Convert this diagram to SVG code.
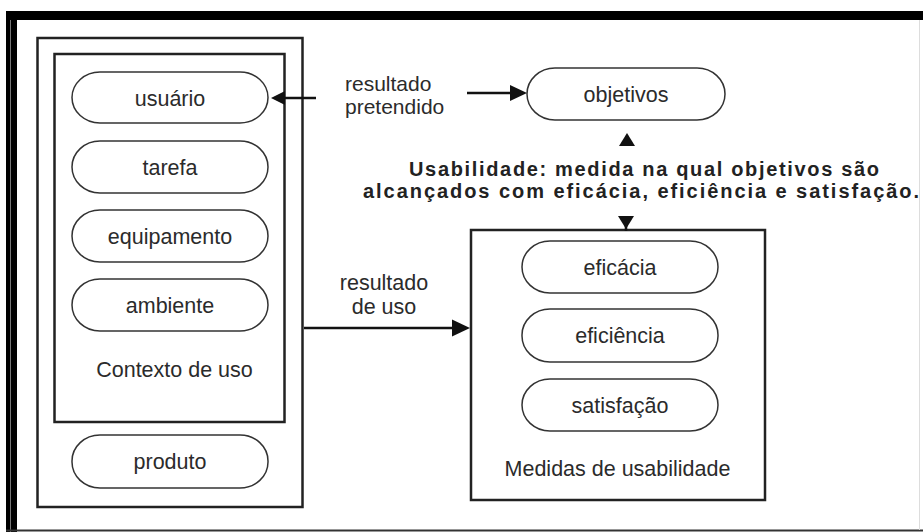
<svg xmlns="http://www.w3.org/2000/svg" width="923" height="532" viewBox="0 0 923 532">
<defs>
<style>
.t{font-family:"Liberation Sans",Arial,sans-serif;font-size:21.5px;fill:#2b2b2b;text-anchor:middle}
.tl{font-family:"Liberation Sans",Arial,sans-serif;font-size:21px;fill:#2b2b2b}
.b{font-family:"Liberation Sans",Arial,sans-serif;font-size:20px;font-weight:bold;fill:#222}
.box{fill:none;stroke:#222;stroke-width:2.5}
.pill{fill:#fff;stroke:#333;stroke-width:1.5}
.ln{fill:none;stroke:#111;stroke-width:2.5}
.ah{fill:#111}
</style>
</defs>
<rect width="923" height="532" fill="#fff"/>
<g id="frame">
<rect x="6" y="11" width="917" height="9" fill="#000"/>
<rect x="6" y="11" width="11" height="521" fill="#000"/>
<line x1="10.5" y1="20" x2="10.5" y2="532" stroke="#777" stroke-width="1"/>
<line x1="6" y1="530.5" x2="923" y2="530.5" stroke="#333" stroke-width="2"/>
<line x1="919.5" y1="20" x2="919.5" y2="530" stroke="#ddd" stroke-width="1"/>
</g>
<g id="produto-box">
<rect class="box" x="37.5" y="38" width="265" height="469"/>
</g>
<g id="contexto">
<rect class="box" x="54.5" y="54" width="230" height="368"/>
<text class="t" x="174.5" y="377">Contexto de uso</text>
</g>
<g id="usuario">
<rect class="pill" x="72" y="72" width="196" height="51" rx="28" ry="25.5"/>
<text class="t" x="170" y="106">usuário</text>
</g>
<g id="tarefa">
<rect class="pill" x="72" y="141" width="196" height="52" rx="28" ry="26"/>
<text class="t" x="170" y="175">tarefa</text>
</g>
<g id="equipamento">
<rect class="pill" x="72" y="210" width="196" height="52" rx="28" ry="26"/>
<text class="t" x="170" y="244">equipamento</text>
</g>
<g id="ambiente">
<rect class="pill" x="72" y="279" width="196" height="52" rx="28" ry="26"/>
<text class="t" x="170" y="313">ambiente</text>
</g>
<g id="produto">
<rect class="pill" x="72" y="435" width="196" height="53" rx="28" ry="26"/>
<text class="t" x="170" y="469">produto</text>
</g>
<g id="objetivos">
<rect class="pill" x="527" y="68" width="198" height="52" rx="28" ry="26"/>
<text class="t" x="626" y="102">objetivos</text>
</g>
<g id="definicao">
<text class="b" x="409" y="176" textLength="470" lengthAdjust="spacing">Usabilidade: medida na qual objetivos são</text>
<text class="b" x="363" y="198" textLength="556" lengthAdjust="spacing">alcançados com eficácia, eficiência e satisfação.</text>
</g>
<g id="medidas">
<rect class="box" x="471" y="230" width="294" height="270"/>
<text class="t" x="617.5" y="476">Medidas de usabilidade</text>
</g>
<g id="eficacia">
<rect class="pill" x="522" y="241" width="196" height="52" rx="28" ry="26"/>
<text class="t" x="620" y="275">eficácia</text>
</g>
<g id="eficiencia">
<rect class="pill" x="522" y="309" width="196" height="53" rx="28" ry="26"/>
<text class="t" x="620" y="343">eficiência</text>
</g>
<g id="satisfacao">
<rect class="pill" x="522" y="379" width="196" height="52" rx="28" ry="26"/>
<text class="t" x="620" y="413">satisfação</text>
</g>
<g id="connectors">
<line class="ln" x1="316" y1="98" x2="284" y2="98"/>
<polygon class="ah" points="271,98 285,91 285,105"/>
<text class="tl" x="345" y="91">resultado</text>
<text class="tl" x="345" y="114">pretendido</text>
<line class="ln" x1="467" y1="93" x2="512" y2="93"/>
<polygon class="ah" points="527,93 510,85 510,101"/>
<polygon class="ah" points="627,133 619,146 635,146"/>
<polygon class="ah" points="626,229 618,216 634,216"/>
<line class="ln" x1="626" y1="226" x2="626" y2="231"/>
<line class="ln" x1="304" y1="328" x2="454" y2="328"/>
<polygon class="ah" points="470,328 452,319.5 452,336.5"/>
<text class="t" x="384" y="290">resultado</text>
<text class="t" x="384" y="314">de uso</text>
</g>
</svg>
